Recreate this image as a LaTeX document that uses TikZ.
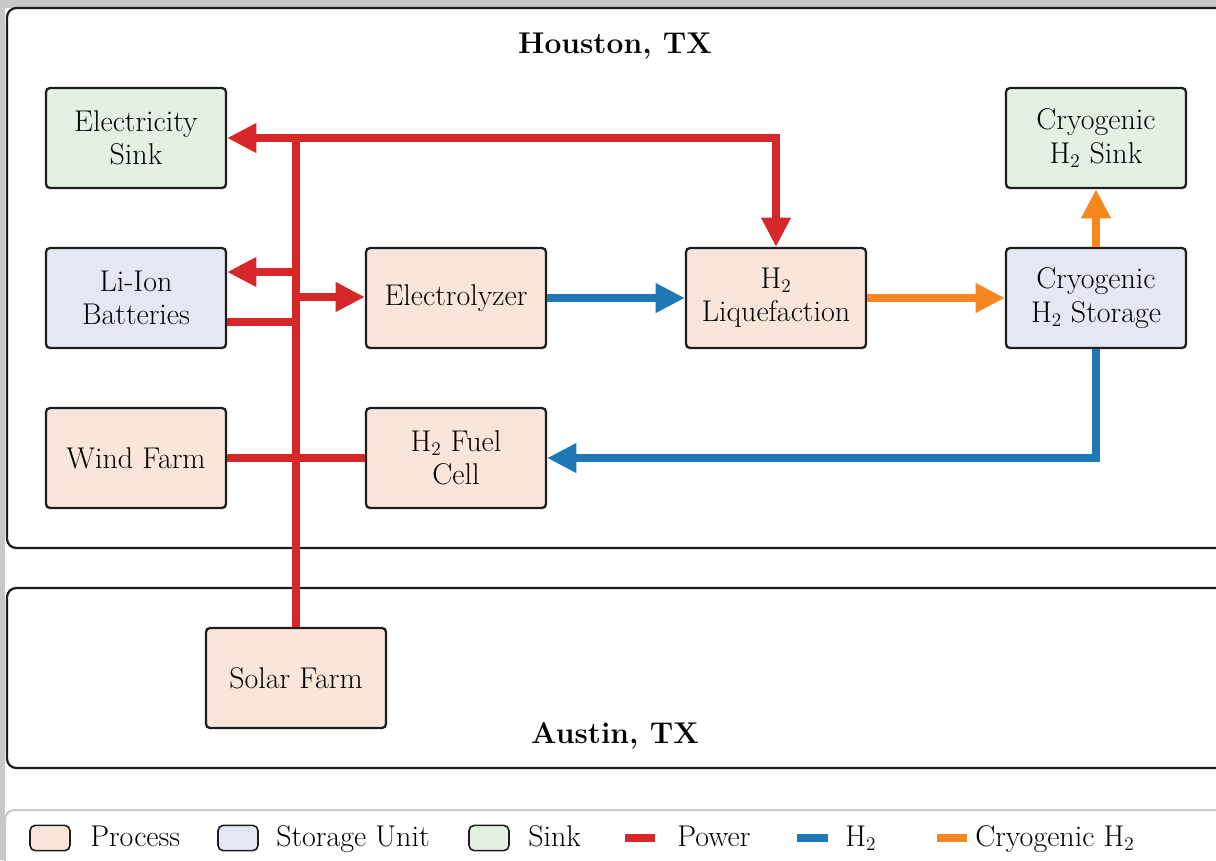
\documentclass[tikz,border=0pt]{standalone}
\usetikzlibrary{arrows.meta}
\definecolor{procfill}{RGB}{249,229,218}
\definecolor{storfill}{RGB}{228,232,245}
\definecolor{sinkfill}{RGB}{229,240,228}
\definecolor{pwr}{RGB}{214,40,40}
\definecolor{htwo}{RGB}{31,119,180}
\definecolor{cryo}{RGB}{245,135,30}
\definecolor{bgrey}{RGB}{200,200,200}
\definecolor{edge}{RGB}{30,30,30}
\begin{document}
\begin{tikzpicture}[x=0.75pt,y=-0.75pt,
  every node/.style={font=\fontsize{22.5}{25}\selectfont},
  unit/.style={draw=edge,line width=1.7pt,rounded corners=3pt,minimum width=135pt,minimum height=75pt,align=center,inner sep=2pt},
  proc/.style={unit,fill=procfill},
  stor/.style={unit,fill=storfill},
  sinkbox/.style={unit,fill=sinkfill},
  region/.style={draw=edge,line width=1.7pt,rounded corners=7pt},
  flow/.style={line width=5.4pt},
  tip/.style={-{Triangle[length=22pt,width=21pt]}},
  pline/.style={flow,pwr},
  hline/.style={flow,htwo},
  cline/.style={flow,cryo},
  swatch/.style={draw=edge,line width=1.2pt,rounded corners=4pt,minimum width=30pt,minimum height=19pt,inner sep=0pt},
  legtxt/.style={anchor=base west,inner sep=0pt}
]
\useasboundingbox (0,0) rectangle (1216,860);
\clip (0,0) rectangle (1216,860);
\fill[bgrey] (0,0) rectangle (1216,860);
\fill[white] (5,8) rectangle (1216,860);

% regions
\draw[region] (7,8) rectangle (1240,548);
\draw[region] (7,588) rectangle (1240,768);
\draw[draw=bgrey,line width=1.5pt,rounded corners=7pt,fill=white] (5,810) rectangle (1240,880);

\node[font=\fontsize{22.5}{25}\selectfont\bfseries] (houston) at (615,46) {Houston, TX};
\node[font=\fontsize{22.5}{25}\selectfont\bfseries] (austin) at (615,736) {Austin, TX};

% nodes
\node[sinkbox] (esink) at (136,138) {Electricity\\Sink};
\node[stor] (liion) at (136,298) {Li-Ion\\Batteries};
\node[proc] (wind) at (136,458) {Wind Farm};
\node[proc] (elec) at (456,298) {Electrolyzer};
\node[proc] (fuel) at (456,458) {H$_2$ Fuel\\Cell};
\node[proc] (liq) at (776,298) {H$_2$\\Liquefaction};
\node[sinkbox] (csink) at (1096,138) {Cryogenic\\H$_2$ Sink};
\node[stor] (cstor) at (1096,298) {Cryogenic\\H$_2$ Storage};
\node[proc] (solar) at (296,678) {Solar Farm};

% power connectors
\coordinate (top) at (296,138);
\coordinate (tA) at (296,272);
\coordinate (tB) at (296,297);
\coordinate (tC) at (296,322);
\coordinate (tD) at (296,458);
\draw[pline] (solar.north) -- (top);
\draw[pline,tip] (top) -- (esink.east|-top);
\draw[pline,tip] (top) -- (liq.north|-top) -- (liq.north);
\draw[pline,tip] (tA) -- (liion.east|-tA);
\draw[pline,tip] (tB) -- (elec.west|-tB);
\draw[pline] (liion.east|-tC) -- (tC);
\draw[pline] (wind.east) -- (tD);
\draw[pline] (fuel.west) -- (tD);

% H2 connectors
\draw[hline,tip] (elec.east) -- (liq.west);
\draw[hline,tip] (cstor.south) -- (cstor.south|-fuel.east) -- (fuel.east);

% cryogenic connectors
\draw[cline,tip] (liq.east) -- (cstor.west);
\draw[cline,tip] (cstor.north) -- (csink.south);

% legend
\node[swatch,fill=procfill] (l1) at (50,838) {};
\node[legtxt] (l1t) at (90,846) {Process};
\node[swatch,fill=storfill] (l2) at (238,838) {};
\node[legtxt] (l2t) at (276,846) {Storage Unit};
\node[swatch,fill=sinkfill] (l3) at (489,838) {};
\node[legtxt] (l3t) at (528,846) {Sink};
\coordinate (l4a) at (625,838); \coordinate (l4b) at (655,838);
\draw[pline] (l4a) -- (l4b);
\node[legtxt] (l4t) at (677,846) {Power};
\coordinate (l5a) at (797,838); \coordinate (l5b) at (828,838);
\draw[hline] (l5a) -- (l5b);
\node[legtxt] (l5t) at (845,846) {H$_2$};
\coordinate (l6a) at (937,838); \coordinate (l6b) at (967,838);
\draw[cline] (l6a) -- (l6b);
\node[legtxt] (l6t) at (975,846) {Cryogenic H$_2$};
\end{tikzpicture}
\end{document}
